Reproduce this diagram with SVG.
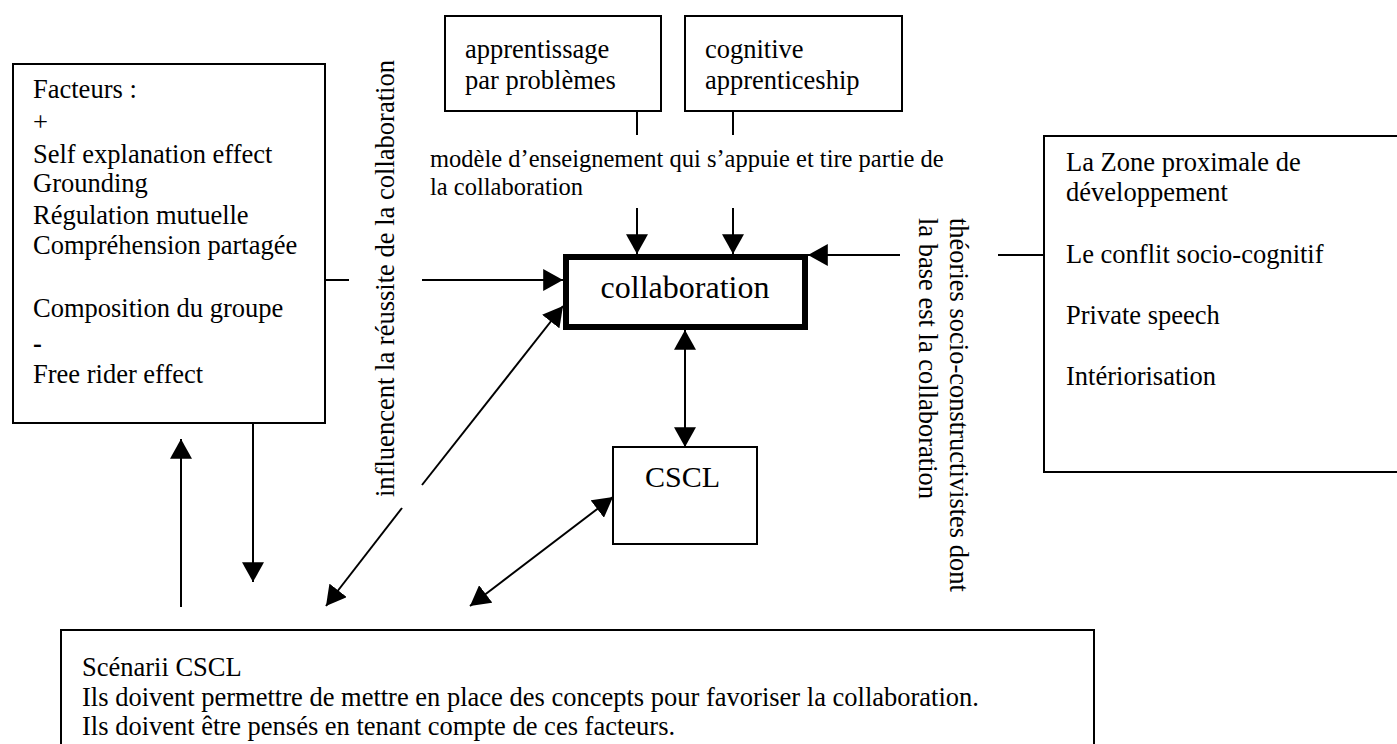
<svg xmlns="http://www.w3.org/2000/svg" width="1397" height="744" viewBox="0 0 1397 744">
<style>
  text { font-family: "Liberation Serif", "Times New Roman", serif; fill: #000; }
  .t { font-size: 26.5px; }
  .box { fill: #fff; stroke: #000; stroke-width: 2; }
  .thick { fill: #fff; stroke: #000; stroke-width: 6; }
  .c { stroke: #000; stroke-width: 2; fill: none; }
</style>
<defs>
  <marker id="ah" markerUnits="userSpaceOnUse" markerWidth="20" markerHeight="22" viewBox="0 0 18 20" refX="18" refY="10" orient="auto-start-reverse">
    <path d="M0,0 L18,10 L0,20 z" fill="#000"/>
  </marker>
</defs>
<rect width="1397" height="744" fill="#fff"/>

<g id="connectors">
  <line class="c" x1="325" y1="280" x2="349" y2="280"/>
  <line class="c" x1="422" y1="280" x2="563" y2="280" marker-end="url(#ah)"/>
  <line class="c" x1="637" y1="111" x2="637" y2="135"/>
  <line class="c" x1="637" y1="208" x2="637" y2="254" marker-end="url(#ah)"/>
  <line class="c" x1="733" y1="111" x2="733" y2="135"/>
  <line class="c" x1="733" y1="208" x2="733" y2="254" marker-end="url(#ah)"/>
  <line class="c" x1="1044" y1="255" x2="998" y2="255"/>
  <line class="c" x1="900" y1="255" x2="808" y2="255" marker-end="url(#ah)"/>
  <line class="c" x1="685" y1="330" x2="685" y2="447" marker-start="url(#ah)" marker-end="url(#ah)"/>
  <line class="c" x1="422" y1="485" x2="563" y2="306" marker-end="url(#ah)"/>
  <line class="c" x1="402" y1="508" x2="326" y2="606" marker-end="url(#ah)"/>
  <line class="c" x1="613" y1="497" x2="470" y2="606" marker-start="url(#ah)" marker-end="url(#ah)"/>
  <line class="c" x1="253" y1="423" x2="253" y2="582" marker-end="url(#ah)"/>
  <line class="c" x1="181" y1="607" x2="181" y2="439" marker-end="url(#ah)"/>
</g>

<g id="label-modele">
  <text x="430" y="167" style="font-size:24.5px">modèle d’enseignement qui s’appuie et tire partie de</text>
  <text x="430" y="195" style="font-size:24.5px">la collaboration</text>
</g>

<g id="label-influencent">
  <text class="t" transform="translate(394,497) rotate(-90)" textLength="437" lengthAdjust="spacingAndGlyphs">influencent la réussite de la collaboration</text>
</g>

<g id="label-theories">
  <text class="t" transform="translate(950,218) rotate(90)">théories socio-constructivistes dont</text>
  <text class="t" transform="translate(919,218) rotate(90)">la base est la collaboration</text>
</g>

<g id="facteurs">
  <rect class="box" x="13" y="64" width="312" height="359"/>
  <text class="t" x="33" y="98">Facteurs :</text>
  <text class="t" x="33" y="131">+</text>
  <text class="t" x="33" y="163">Self explanation effect</text>
  <text class="t" x="33" y="192">Grounding</text>
  <text class="t" x="33" y="224">Régulation mutuelle</text>
  <text class="t" x="33" y="254">Compréhension partagée</text>
  <text class="t" x="33" y="317">Composition du groupe</text>
  <text class="t" x="33" y="352" style="font-weight:bold">-</text>
  <text class="t" x="33" y="383">Free rider effect</text>
</g>

<g id="apprentissage">
  <rect class="box" x="445" y="16" width="216" height="95"/>
  <text class="t" x="465" y="58">apprentissage</text>
  <text class="t" x="465" y="89">par problèmes</text>
</g>

<g id="cognitive">
  <rect class="box" x="685" y="16" width="217" height="95"/>
  <text class="t" x="705" y="58">cognitive</text>
  <text class="t" x="705" y="89">apprenticeship</text>
</g>

<g id="collaboration">
  <rect class="thick" x="566" y="257" width="239" height="70"/>
  <text x="685" y="298" text-anchor="middle" style="font-size:32px">collaboration</text>
</g>

<g id="cscl">
  <rect class="box" x="613" y="447" width="144" height="97"/>
  <text x="645" y="487" style="font-size:30px">CSCL</text>
</g>

<g id="theories-box">
  <rect class="box" x="1044" y="136" width="370" height="336"/>
  <text class="t" x="1066" y="171">La Zone proximale de</text>
  <text class="t" x="1066" y="201">développement</text>
  <text class="t" x="1066" y="263">Le conflit socio-cognitif</text>
  <text class="t" x="1066" y="324">Private speech</text>
  <text class="t" x="1066" y="385">Intériorisation</text>
</g>

<g id="scenarii">
  <rect class="box" x="61" y="630" width="1033" height="130"/>
  <text class="t" x="82" y="676">Scénarii CSCL</text>
  <text class="t" x="82" y="706">Ils doivent permettre de mettre en place des concepts pour favoriser la collaboration.</text>
  <text class="t" x="82" y="735">Ils doivent être pensés en tenant compte de ces facteurs.</text>
</g>
</svg>
